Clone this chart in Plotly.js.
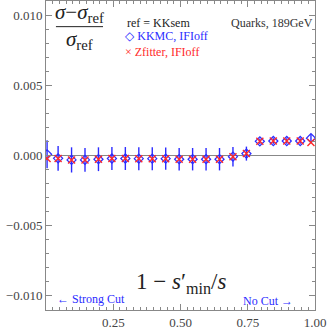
<!DOCTYPE html>
<html>
<head>
<meta charset="utf-8">
<script src="https://cdn.plot.ly/plotly-3.0.1.min.js"></script>
<style>html,body{margin:0;padding:0;background:#fff}#plot{width:327px;height:327px}</style>
</head>
<body>
<div id="plot"></div>
<script>
// 1 - s'min/s values
var xcut = [0.004, 0.045, 0.095, 0.145, 0.195, 0.245, 0.295, 0.345, 0.395, 0.445, 0.495,
            0.545, 0.595, 0.645, 0.695, 0.745, 0.795, 0.845, 0.895, 0.945, 0.985];
// KKMC, IFIoff relative to KKsem
var kkmc = [0.00005, -0.00024, -0.00035, -0.00035, -0.0003, -0.00025, -0.00025, -0.00026, -0.00026, -0.00026, -0.0003,
            -0.0003, -0.0003, -0.0003, -0.00012, 0.0001, 0.00098, 0.001, 0.001, 0.001, 0.0012];
var kkmcErr = [0.001, 0.00088, 0.0009, 0.00085, 0.00085, 0.00082, 0.00082, 0.00082, 0.00082, 0.0008, 0.0008,
               0.0008, 0.0008, 0.0008, 0.0007, 0.0005, 0.0002, 0.0002, 0.0002, 0.0002, 0.0003];
// Zfitter, IFIoff relative to KKsem
var zfitter = [-0.00025, -0.00025, -0.00035, -0.00035, -0.0003, -0.00025, -0.00025, -0.00026, -0.00026, -0.00026, -0.0003,
               -0.0003, -0.0003, -0.0003, -0.00012, 0.0001, 0.00098, 0.001, 0.001, 0.001, 0.0009];

var xticks = [0.25, 0.5, 0.75, 1.0];
var xlabels = ["0.25", "0.50", "0.75", "1.00"];
var yticks = [-0.01, -0.005, 0, 0.005, 0.01];
var ylabels = ["\u22120.010", "\u22120.005", "0.000", "0.005", "0.010"];

var blue = "#2b2bff";
var red = "#ff2a2a";
var serif = "'Liberation Serif', 'Times New Roman', 'DejaVu Serif', serif";
var tickFont = {family: "'Times New Roman', 'Liberation Serif', serif", size: 13, color: "#444"};

var trace1 = {
    x: xcut,
    y: kkmc,
    error_y: {type: "data", array: kkmcErr, color: blue, thickness: 1.4, width: 0},
    mode: "markers",
    type: "scatter",
    marker: {symbol: "diamond-open", size: 7, color: blue, line: {width: 1.2}}
};
var trace2 = {
    x: xcut,
    y: zfitter,
    mode: "markers",
    type: "scatter",
    marker: {symbol: "x-thin-open", size: 7, color: red, line: {width: 1.4, color: red}}
};

function note(x, y, txt, size, color, xanchor) {
    return {xref: "paper", yref: "paper", x: x, y: y, xanchor: xanchor, yanchor: "middle",
            showarrow: false, text: txt, font: {family: serif, size: size, color: color}};
}

var layout = {
    width: 327,
    height: 327,
    margin: {l: 46, r: 12, t: 1, b: 17},
    paper_bgcolor: "#fff",
    plot_bgcolor: "#fff",
    showlegend: false,
    font: {family: serif},
    xaxis: {
        range: [0, 1],
        showgrid: false, showline: true, linecolor: "#888", linewidth: 1,
        mirror: "allticks", ticks: "inside", ticklen: 6, tickcolor: "#888",
        tickfont: tickFont,
        ticklabelstandoff: 0,
        tickmode: "array",
        tickvals: xticks,
        ticktext: xlabels,
        zeroline: false,
        minor: {tick0: 0, dtick: 0.025, ticks: "inside", ticklen: 3, tickcolor: "#888"}
    },
    yaxis: {
        range: [-0.01107, 0.011],
        showgrid: false, showline: true, linecolor: "#888", linewidth: 1,
        mirror: "allticks", ticks: "inside", ticklen: 6, tickcolor: "#888",
        tickfont: tickFont,
        tickmode: "array",
        tickvals: yticks,
        ticktext: ylabels,
        zeroline: true,
        zerolinecolor: "#888",
        zerolinewidth: 1,
        minor: {tick0: 0, dtick: 0.001, ticks: "inside", ticklen: 3, tickcolor: "#888"}
    },
    shapes: [
        {type: "line", xref: "paper", yref: "paper", x0: 0.037, x1: 0.212, y0: 0.917, y1: 0.917,
         line: {color: "#222", width: 1}}
    ],
    annotations: [
        note(0.125, 0.960, "<i>\u03c3</i>\u2212<i>\u03c3</i><sub>ref</sub>", 21, "#222", "center"),
        note(0.125, 0.874, "<i>\u03c3</i><sub>ref</sub>", 21, "#222", "center"),
        note(0.292, 0.930, "ref = KKsem", 12, "#222", "left"),
        note(0.288, 0.887, "\u25c7 KKMC, IFIoff", 12, blue, "left"),
        note(0.288, 0.835, "\u00d7 Zfitter, IFIoff", 12, red, "left"),
        note(1.0, 0.930, "Quarks, 189GeV", 12, "#333", "right"),
        note(0.5, 0.087, "1 \u2212 <i>s</i>\u2032<sub>min</sub>/<i>s</i>", 23, "#222", "center"),
        note(0.035, 0.036, "\u2190 Strong Cut", 12, blue, "left"),
        note(0.925, 0.029, "No Cut \u2192", 12, blue, "right")
    ]
};

Plotly.newPlot("plot", [trace1, trace2], layout, {staticPlot: true});
</script>
</body>
</html>
